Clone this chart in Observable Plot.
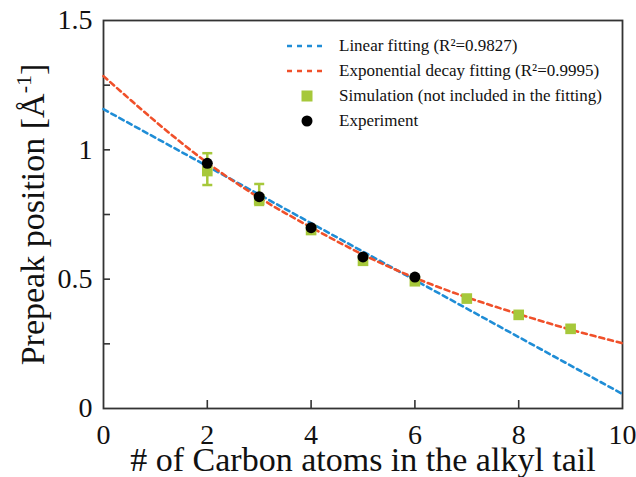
<!DOCTYPE html>
<html><head><meta charset="utf-8">
<script src="https://cdn.jsdelivr.net/npm/d3@7"></script>
<script src="https://cdn.jsdelivr.net/npm/@observablehq/plot@0.6"></script>
<style>
body{margin:0;background:#fff;}
#wrap{position:relative;width:636px;height:477px;font-family:"Liberation Serif","Times New Roman",serif;}
#legend{position:absolute;left:287px;top:33px;font-size:17px;color:#111;}
.row{height:25px;display:flex;align-items:center;white-space:nowrap;}
.sw{width:40px;height:25px;display:flex;align-items:center;justify-content:center;margin-right:12px;}
</style></head><body><div id="wrap"><div id="legend"></div></div>
<script>
// ---- data ----
const carbonExp = [2, 3, 4, 5, 6];
const experiment = [0.948, 0.819, 0.699, 0.586, 0.508];
const carbonSim = [2, 3, 4, 5, 6, 7, 8, 9];
const simulation = [0.918, 0.808, 0.690, 0.571, 0.492, 0.425, 0.362, 0.308];
const errCarbon = [2, 3];
const errLow = [0.864, 0.787];
const errHigh = [0.987, 0.868];
const linearX = [0, 10];
const linearY = [1.157, 0.056];
const expDecayX = [0, 1, 2, 3, 4, 5, 6, 7, 8, 9, 10];
const expDecayY = [1.285, 1.11, 0.95, 0.815, 0.70, 0.595, 0.505, 0.43, 0.365, 0.305, 0.252];
const xTickLabels = [0, 2, 4, 6, 8, 10];
const xTickMarks = [2, 4, 6, 8];
const yTickLabels = [0, 0.5, 1, 1.5];
const yTickMarks = [0.25, 0.5, 0.75, 1, 1.25];
const legendNames = ["Linear fitting (R\u00b2=0.9827)", "Exponential decay fitting (R\u00b2=0.9995)", "Simulation (not included in the fitting)", "Experiment"];
const xLabel = "# of Carbon atoms in the alkyl tail";
const yLabel = "Prepeak position [\u00c5-1]";

const BLUE = "#1f8dd6", RED = "#f0502a", GREEN = "#a6c83a", AXIS = "#333";

const expRows = carbonExp.map((x, i) => ({x, y: experiment[i]}));
const simRows = carbonSim.map((x, i) => ({x, y: simulation[i]}));
const errRows = errCarbon.map((x, i) => ({x, lo: errLow[i], hi: errHigh[i]}));
const capRows = errRows.flatMap(d => [{x: d.x, y: d.lo}, {x: d.x, y: d.hi}]);
const linRows = linearX.map((x, i) => ({x, y: linearY[i]}));
const decRows = expDecayX.map((x, i) => ({x, y: expDecayY[i]}));

const capSymbol = {draw(ctx, size) { const w = Math.sqrt(size / Math.PI); ctx.moveTo(-w, 0); ctx.lineTo(w, 0); }};

const chart = Plot.plot({
  width: 636, height: 477,
  marginLeft: 103, marginRight: 14, marginTop: 20, marginBottom: 69,
  style: {fontFamily: "'Liberation Serif', 'Times New Roman', serif", background: "#fff", color: "#111"},
  x: {domain: [0, 10]},
  y: {domain: [0, 1.5]},
  marks: [
    Plot.axisX(xTickLabels, {tickSize: 0, tickPadding: 16, fontSize: 28, tickFormat: d => String(d), label: null}),
    Plot.axisX(xTickMarks, {tickSize: -8, tickFormat: () => "", label: null, stroke: AXIS, strokeWidth: 1.6}),
    Plot.axisY(yTickLabels, {tickSize: 0, tickPadding: 11, fontSize: 28, tickFormat: d => String(d), label: null}),
    Plot.axisY(yTickMarks, {tickSize: -7, tickFormat: () => "", label: null, stroke: AXIS, strokeWidth: 1.6}),
    Plot.frame({stroke: AXIS, strokeWidth: 1.8}),
    Plot.line(linRows, {x: "x", y: "y", stroke: BLUE, strokeWidth: 2.6, strokeDasharray: "5,4"}),
    Plot.line(decRows, {x: "x", y: "y", stroke: RED, strokeWidth: 2.6, strokeDasharray: "5,4", curve: "natural"}),
    Plot.ruleX(errRows, {x: "x", y1: "lo", y2: "hi", stroke: GREEN, strokeWidth: 2.5}),
    Plot.dot(capRows, {x: "x", y: "y", symbol: capSymbol, r: 5, stroke: GREEN, strokeWidth: 2.5, fill: "none"}),
    Plot.dot(simRows, {x: "x", y: "y", symbol: "square", r: 6, fill: GREEN, stroke: "none"}),
    Plot.dot(expRows, {x: "x", y: "y", r: 5.5, fill: "#000", stroke: "none"}),
    Plot.text([xLabel], {text: d => d, frameAnchor: "bottom", textAnchor: "middle", lineAnchor: "bottom", dy: 62, fontSize: 34, fill: "#111"}),
    Plot.text([yLabel], {text: d => d, frameAnchor: "left", textAnchor: "middle", rotate: -90, lineAnchor: "bottom", dx: -60, fontSize: 34, fill: "#111"})
  ]
});

// superscript in the y label
chart.querySelectorAll("text").forEach(t => {
  if (t.textContent === yLabel) {
    while (t.firstChild) t.removeChild(t.firstChild);
    const ns = "http://www.w3.org/2000/svg";
    t.appendChild(document.createTextNode("Prepeak position [\u00c5"));
    const s = document.createElementNS(ns, "tspan");
    s.setAttribute("dy", "-13"); s.setAttribute("font-size", "22"); s.textContent = "-1";
    t.appendChild(s);
    const e = document.createElementNS(ns, "tspan");
    e.setAttribute("dy", "13"); e.textContent = "]";
    t.appendChild(e);
  }
});

const wrap = document.getElementById("wrap");
wrap.insertBefore(chart, wrap.firstChild);

// legend
const legend = document.getElementById("legend");
const swatches = [
  `<svg width="40" height="6"><line x1="0" y1="3" x2="40" y2="3" stroke="${BLUE}" stroke-width="2.6" stroke-dasharray="5,5"/></svg>`,
  `<svg width="40" height="6"><line x1="0" y1="3" x2="40" y2="3" stroke="${RED}" stroke-width="2.6" stroke-dasharray="5,5"/></svg>`,
  `<svg width="12" height="12"><rect x="0.5" y="0.5" width="11" height="11" fill="${GREEN}"/></svg>`,
  `<svg width="12" height="12"><circle cx="6" cy="6" r="5.5" fill="#000"/></svg>`
];
legendNames.forEach((name, i) => {
  const row = document.createElement("div");
  row.className = "row";
  row.innerHTML = `<div class="sw">${swatches[i]}</div><span>${name}</span>`;
  legend.appendChild(row);
});
</script></body></html>
